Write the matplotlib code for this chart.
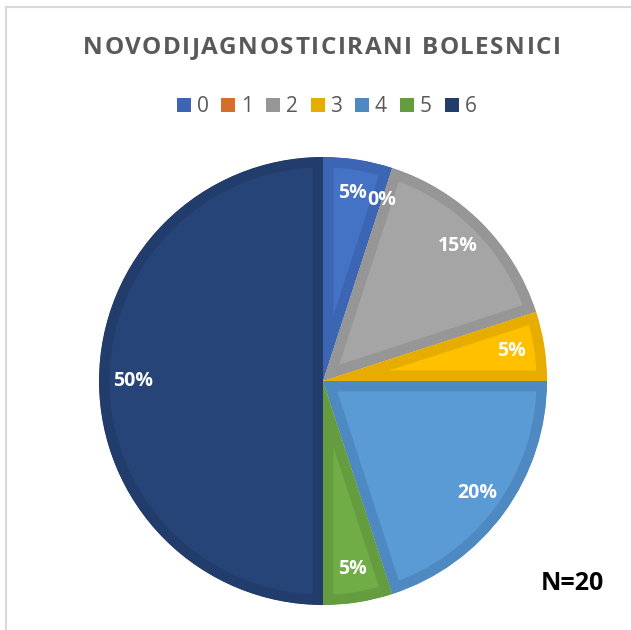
import matplotlib
matplotlib.use("Agg")
import matplotlib.pyplot as plt
from matplotlib.lines import Line2D
from matplotlib.patches import Patch
from matplotlib.font_manager import FontProperties

categories = ["0", "1", "2", "3", "4", "5", "6"]
counts = [1, 0, 3, 1, 4, 1, 10]
fill_colors = ["#4472C4", "#ED7D31", "#A5A5A5", "#FFC000", "#5B9BD5", "#70AD47", "#264478"]
edge_colors = ["#3C66B4", "#D56E2B", "#969696", "#E6AC00", "#4F89C2", "#659C40", "#223D6B"]
title = "NOVODIJAGNOSTICIRANI BOLESNICI"
note = "N=20"

plt.rcParams['font.family'] = ['Open Sans', 'DejaVu Sans']
W, H = 631, 630
DPI = 100
fig = plt.figure(figsize=(W / DPI, H / DPI), dpi=DPI)

cx, cy, r = 323, 381, 224
ax = fig.add_axes([(cx - r) / W, (H - cy - r) / H, 2 * r / W, 2 * r / H])

wedges, texts, autotexts = ax.pie(
    counts, colors=fill_colors, startangle=90, counterclock=False, radius=1,
    autopct=lambda p: f"{p:.0f}%", pctdistance=0.85,
    textprops=dict(color="white", fontsize=14, fontweight="bold"),
    wedgeprops=dict(linewidth=15, joinstyle='miter'))
for w, ec in zip(wedges, edge_colors):
    w.set_edgecolor(ec)
    w.set_clip_on(True)
    w.set_clip_path(w)
ax.set_xlim(-1, 1)
ax.set_ylim(-1, 1)
ax.set_aspect('equal')
ax.axis('off')

# border lines of the chart area
fig.add_artist(Line2D([6 / W, 1], [1 - 7 / H, 1 - 7 / H], color="#D9D9D9", lw=1.5))
fig.add_artist(Line2D([6 / W, 6 / W], [0, 1 - 7 / H], color="#D9D9D9", lw=1.5))

# title with slight letter spacing (Excel-like)
tfp = FontProperties(family=['Open Sans'], weight='bold', size=17.5)
renderer = fig.canvas.get_renderer()


def ink_w(s):
    return renderer.get_text_width_height_descent(s, tfp, ismath=False)[0]


full_w = ink_w(title)
target_w = 478
spacing = (target_w - full_w) / (len(title) - 1)
x0 = 322 - target_w / 2
for i, c in enumerate(title):
    if c == " ":
        continue
    left = ink_w(title[:i + 1]) - ink_w(c)
    fig.text((x0 + left + i * spacing) / W, 1 - 54 / H, c, ha='left', va='baseline',
             fontproperties=tfp, color="#595959")

handles = [Patch(facecolor=c, edgecolor='none') for c in edge_colors]
fig.legend(handles, categories, loc='center', bbox_to_anchor=(326.5 / W, 1 - 106.5 / H),
           ncol=7, frameon=False, fontsize=15, labelcolor="#595959",
           handlelength=0.67, handleheight=0.67, handletextpad=0.28, columnspacing=0.62,
           borderpad=0, borderaxespad=0)

fig.text(572 / W, 1 - 584 / H, note, ha='center', va='center', fontsize=18,
         fontweight='bold', color="black")

fig.savefig("out.png", dpi=DPI)
